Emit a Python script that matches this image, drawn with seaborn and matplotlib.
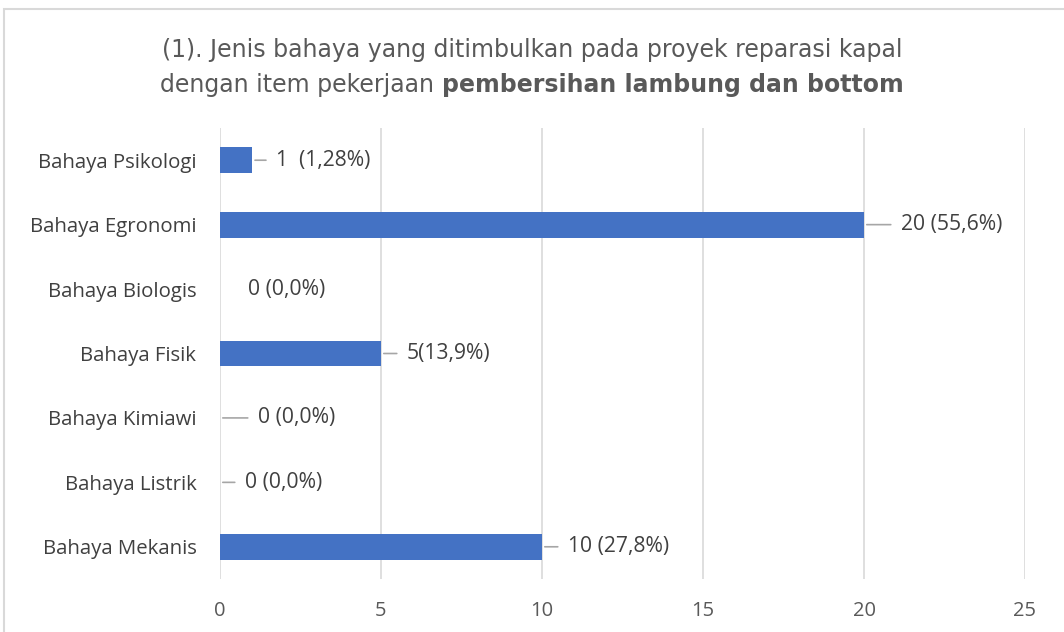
import matplotlib.pyplot as plt
import matplotlib.patches as mpatches
import numpy as np
import pandas as pd
import seaborn as sns

kategori = ['Bahaya Psikologi', 'Bahaya Egronomi', 'Bahaya Biologis', 'Bahaya Fisik',
            'Bahaya Kimiawi', 'Bahaya Listrik', 'Bahaya Mekanis']
jumlah = [1, 20, 0, 5, 0, 0, 10]
label = ['1  (1,28%)', '20 (55,6%)', '0 (0,0%)', '5(13,9%)', '0 (0,0%)', '0 (0,0%)', '10 (27,8%)']
x_ticks = [0, 5, 10, 15, 20, 25]

# offset of the label from the bar end (pixels) and whether a leader line is drawn
geser = [24, 37, 28, 26, 38, 25, 26]
garis = [True, True, False, True, True, True, True]

df = pd.DataFrame({'kategori': kategori, 'jumlah': jumlah})

sns.set_style('white')
plt.rcParams['font.family'] = ['Open Sans', 'DejaVu Sans']

fig = plt.figure(figsize=(10.64, 6.32), dpi=100)
ax = fig.add_axes([220 / 1064, 1 - 579 / 632, 805 / 1064, 451 / 632])

sns.barplot(data=df, y='kategori', x='jumlah', orient='h', color='#4472C4',
            width=0.4, saturation=1, linewidth=0, ax=ax, zorder=3)

ax.set_xlim(0, 25)
ax.set_xticks(x_ticks)
ax.set_xlabel('')
ax.set_ylabel('')
ax.grid(axis='x', color='#D9D9D9', lw=1.2, zorder=0)
ax.set_axisbelow(True)
for s in ax.spines.values():
    s.set_visible(False)
ax.tick_params(axis='x', length=0, pad=16, labelsize=14.5, labelcolor='#595959')
ax.tick_params(axis='y', length=0, pad=17, labelsize=14.7, labelcolor='#404040')

for i, (v, t) in enumerate(zip(jumlah, label)):
    props = None
    if garis[i]:
        props = dict(arrowstyle='-', color='#A6A6A6', lw=1.2, relpos=(0, 0.5),
                     shrinkA=5, shrinkB=2)
    ax.annotate(t, xy=(v, i), xytext=(geser[i], 0), textcoords='offset pixels',
                ha='left', va='center', fontsize=15.2, color='#404040',
                arrowprops=props, annotation_clip=False)

# title, second line partly bold
judul_1 = '(1). Jenis bahaya yang ditimbulkan pada proyek reparasi kapal'
judul_2a = 'dengan item pekerjaan '
judul_2b = 'pembersihan lambung dan bottom'
tf = ['DejaVu Sans']
fig.text(0.5, 1 - 50 / 632, judul_1, ha='center', va='center', fontsize=17,
         color='#595959', family=tf)
r = fig.canvas.get_renderer()
ta = fig.text(0, 1 - 85 / 632, judul_2a, ha='left', va='center', fontsize=17,
              color='#595959', family=tf)
tb = fig.text(0, 1 - 85 / 632, judul_2b, ha='left', va='center', fontsize=17,
              color='#595959', family=tf, weight='bold')
wa = ta.get_window_extent(r).width / fig.bbox.width
wb = tb.get_window_extent(r).width / fig.bbox.width
x0 = 0.5 - (wa + wb) / 2
ta.set_x(x0)
tb.set_x(x0 + wa)

# chart frame
fig.patches.append(mpatches.Rectangle((4 / 1064, -0.1), 1.2, 1.1 - 9 / 632,
                                      transform=fig.transFigure, fill=False,
                                      edgecolor='#D9D9D9', lw=1.5))

fig.savefig('out.png', dpi=100, facecolor='white')
